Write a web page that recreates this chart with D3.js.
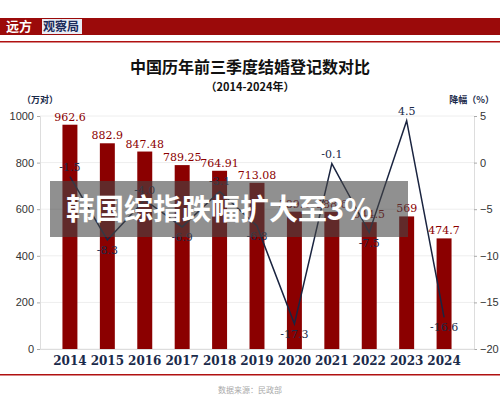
<!DOCTYPE html>
<html><head><meta charset="utf-8">
<script src="https://cdn.jsdelivr.net/npm/d3@7"></script>
<style>body{margin:0;background:#fff}svg{display:block}</style>
</head><body><svg id="c" width="500" height="420"></svg>
<script>
var years = ["2014","2015","2016","2017","2018","2019","2020","2021","2022","2023","2024"]
var marriages = [962.6, 882.9, 847.48, 789.25, 764.91, 713.08, 589.4, 588.6, 544.5, 569, 474.7]
var declines = [-1.5, -8.3, -4.0, -6.9, -3.1, -6.8, -17.3, -0.1, -7.5, 4.5, -16.6]
var leftTicks = [0, 200, 400, 600, 800, 1000]
var rightTicks = [5, 0, -5, -10, -15, -20]

var svg = d3.select("#c")
var serif = "'DejaVu Serif', 'Liberation Serif', 'Noto Sans CJK SC', serif"
var red = "#8b0000"

// header
svg.append("rect").attr("x", 0).attr("y", 18).attr("width", 500).attr("height", 17).attr("fill", "#9b0a0a")
svg.append("rect").attr("x", 42).attr("y", 19).attr("width", 40).attr("height", 15).attr("fill", "#e8ecf4")
svg.append("text").attr("x", 6).attr("y", 31).attr("fill", "#fff").attr("font-size", 13).attr("font-weight", "bold")
    .attr("font-family", "'Noto Sans CJK SC'").text("远方")
svg.append("text").attr("x", 43).attr("y", 31).attr("fill", "#1a2a5a").attr("font-size", 12).attr("font-weight", "bold")
    .attr("font-family", "'Noto Sans CJK SC'").text("观察局")
svg.append("rect").attr("x", 0).attr("y", 41).attr("width", 500).attr("height", 1.5).attr("fill", "#b01010")

svg.append("text").attr("x", 250).attr("y", 73).attr("text-anchor", "middle").attr("font-size", 16).attr("font-weight", "bold")
    .attr("font-family", "'Noto Sans CJK SC'").attr("fill", "#111").text("中国历年前三季度结婚登记数对比")
svg.append("text").attr("x", 250).attr("y", 91).attr("text-anchor", "middle").attr("font-size", 11).attr("font-weight", "bold")
    .attr("font-family", "'Noto Sans CJK SC'").attr("fill", "#111").text("（2014-2024年）")
svg.append("text").attr("x", 22).attr("y", 103).attr("font-size", 9).attr("font-weight", "bold")
    .attr("font-family", "'Noto Sans CJK SC'").attr("fill", "#1a2a4a").text("（万对）")
svg.append("text").attr("x", 494).attr("y", 103).attr("text-anchor", "end").attr("font-size", 9).attr("font-weight", "bold")
    .attr("font-family", "'Noto Sans CJK SC'").attr("fill", "#1a2a4a").text("降幅（%）")

var x = d3.scaleBand().domain(years).range([40, 474]).padding(0.6)
var yL = d3.scaleLinear().domain([0, 1000]).range([349, 116])
var yR = d3.scaleLinear().domain([-20, 5]).range([349, 116])

// grid
svg.append("g").selectAll("line").data(leftTicks).enter().append("line")
    .attr("x1", 40).attr("x2", 474).attr("y1", function(d) {return yL(d)}).attr("y2", function(d) {return yL(d)})
    .attr("stroke", "#eee")

var axL = svg.append("g").attr("transform", "translate(40,0)")
    .call(d3.axisLeft(yL).tickValues(leftTicks).tickSize(3).tickFormat(d3.format("d")))
var axR = svg.append("g").attr("transform", "translate(474,0)")
    .call(d3.axisRight(yR).tickValues(rightTicks).tickSize(3))
var axB = svg.append("g").attr("transform", "translate(0,349)")
    .call(d3.axisBottom(x).tickSize(0))
;[axL, axR, axB].forEach(function(a) {
    a.select(".domain").attr("stroke", "#ddd")
    a.selectAll(".tick line").attr("stroke", "#aaa")
    a.selectAll("text").attr("font-size", 11).attr("fill", "#333").attr("font-family", "'Liberation Sans', sans-serif")
})
axB.selectAll("text").attr("dy", "1.1em").attr("font-size", 12).attr("font-weight", "bold")
    .attr("fill", "#1a2a4a").attr("font-family", serif)

// bars
svg.append("g").selectAll("rect").data(marriages).enter().append("rect")
    .attr("x", function(d, i) {return x(years[i])})
    .attr("y", function(d) {return yL(d)})
    .attr("width", x.bandwidth())
    .attr("height", function(d) {return 349 - yL(d)})
    .attr("fill", red)
svg.append("g").selectAll("text").data(marriages).enter().append("text")
    .attr("x", function(d, i) {return x(years[i]) + x.bandwidth() / 2})
    .attr("y", function(d) {return yL(d) - 4})
    .attr("text-anchor", "middle").attr("font-size", 11).attr("fill", red).attr("font-family", serif)
    .text(function(d) {return d})

// line
var cx = function(i) {return x(years[i]) + x.bandwidth() / 2}
svg.append("path").datum(declines)
    .attr("d", d3.line().x(function(d, i) {return cx(i)}).y(function(d) {return yR(d)}))
    .attr("fill", "none").attr("stroke", "#1a2440").attr("stroke-width", 1.5)
svg.append("g").selectAll("text").data(declines).enter().append("text")
    .attr("x", function(d, i) {return cx(i)})
    .attr("y", function(d, i) {
        var up = i == 0 || d >= Math.max(declines[i - 1], declines[i + 1] === undefined ? -99 : declines[i + 1])
        return up ? yR(d) - 6 : yR(d) + 14
    })
    .attr("text-anchor", "middle").attr("font-size", 11).attr("fill", "#1a2a4a").attr("font-family", serif)
    .text(function(d) {return d.toFixed(1)})

// overlay banner
svg.append("rect").attr("x", 50).attr("y", 181).attr("width", 358).attr("height", 56).attr("fill", "rgba(70,70,70,0.6)")
svg.append("text").attr("x", 66).attr("y", 220).attr("font-size", 29).attr("font-weight", "bold")
    .attr("font-family", "'Noto Sans CJK SC'").attr("fill", "#fff").text("韩国综指跌幅扩大至3%")

// footer
svg.append("rect").attr("x", 0).attr("y", 374).attr("width", 500).attr("height", 1.5).attr("fill", "#b01010")
svg.append("text").attr("x", 250).attr("y", 393).attr("text-anchor", "middle").attr("font-size", 8)
    .attr("font-family", "'Noto Sans CJK SC'").attr("fill", "#aaa").text("数据来源：民政部")
</script></body></html>
